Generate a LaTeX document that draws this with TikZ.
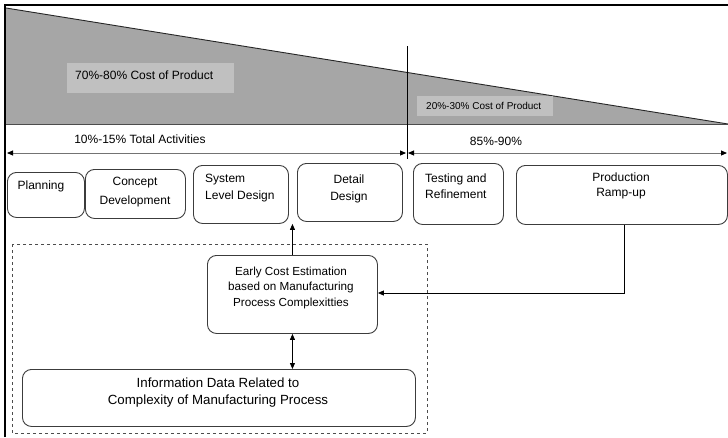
\documentclass[tikz,border=0pt]{standalone}
\usepackage{fontspec}
\setmainfont{Liberation Sans}
\usetikzlibrary{arrows.meta}
\definecolor{wedge}{HTML}{A6A6A6}
\definecolor{tag}{HTML}{C0C0C0}
\definecolor{edge}{HTML}{3C3C3C}
\begin{document}
\begin{tikzpicture}[x=1pt,y=-1pt,
  stage/.style={draw=edge, line width=0.9pt, rounded corners=9pt, anchor=north west, inner sep=0pt},
  lbl/.style={inner sep=0pt, align=center, font=\fontsize{12}{16}\selectfont},
  link/.style={draw=black, line width=0.8pt},
  tip/.style={-{Triangle[length=6pt,width=5pt]}},
  both/.style={{Triangle[length=6pt,width=5pt]}-{Triangle[length=6pt,width=5pt]}},
  span/.style={draw=black!55, line width=0.9pt,
    {Triangle[length=6pt,width=5pt,color=black]}-{Triangle[length=6pt,width=5pt,color=black]}}
]
\useasboundingbox[fill=white] (0,0) rectangle (728,437);

% cost wedge over the project time line
\fill[wedge] (6,8) -- (728,124) -- (6,124) -- cycle;
\draw[line width=0.9pt, black!85] (6,8) -- (728,124);
\draw[line width=0.7pt, black!70] (6,124) -- (728,124);

% cost tags
\node[fill=tag, minimum width=167pt, minimum height=30pt, anchor=north west, inner sep=0pt] (hiTag) at (67,63) {};
\node[lbl, anchor=west] (hiTxt) at (75,75) {70\%-80\% Cost of Product};
\node[fill=tag, minimum width=136pt, minimum height=20pt, anchor=north west, inner sep=0pt] (loTag) at (417,96) {};
\node[lbl, anchor=west, font=\fontsize{10}{12}\selectfont] (loTxt) at (426,106) {20\%-30\% Cost of Product};

% divider and activity spans
\coordinate (divTop) at (407,46);
\coordinate (divBot) at (407,159);
\draw[line width=0.8pt] (divTop) -- (divBot);
\coordinate (spanL) at (7,153);
\coordinate (spanM) at (407,153);
\coordinate (spanR) at (727,153);
\draw[span] (spanL) -- ([xshift=-1pt]spanM);
\draw[span] ([xshift=1pt]spanM) -- (spanR);
\node[lbl] (actL) at (140,139) {10\%-15\% Total Activities};
\node[lbl] (actR) at (496,141) {85\%-90\%};

% frame
\draw[line width=2.2pt] (5,437) -- (5,5) -- (728,5);

% development stages
\node[stage, minimum width=77pt, minimum height=45pt] (plan) at (7,172) {};
\node[lbl] (planTxt) at (41,186) {Planning};
\node[stage, minimum width=100pt, minimum height=49pt] (concept) at (85,169) {};
\node[lbl, font=\fontsize{12}{19}\selectfont] (conceptTxt) at (135,192.5) {Concept\\Development};
\node[stage, minimum width=95pt, minimum height=58pt] (sld) at (193,165) {};
\node[lbl, align=left, anchor=west, font=\fontsize{12}{17}\selectfont] (sldTxt) at (205,188.5) {System\\Level Design};
\node[stage, minimum width=105pt, minimum height=58pt] (detail) at (297,163) {};
\node[lbl, font=\fontsize{12}{17}\selectfont] (detailTxt) at (349,188.5) {Detail\\Design};
\node[stage, minimum width=90pt, minimum height=61pt] (test) at (413,163) {};
\node[lbl, align=left, anchor=west, font=\fontsize{12}{16}\selectfont] (testTxt) at (425,186) {Testing and\\Refinement};
\node[stage, minimum width=211pt, minimum height=59pt] (prod) at (516,165) {};
\node[lbl, font=\fontsize{12}{14.5}\selectfont] (prodTxt) at (621,186) {Production\\Ramp-up};

% estimation loop
\draw[dashed, draw=black!70, line width=0.8pt] (12,244) rectangle (427,433);
\node[stage, minimum width=170pt, minimum height=78pt] (ece) at (207,255) {};
\node[lbl, font=\fontsize{11.7}{15.5}\selectfont] (eceTxt) at (291,287.5) {Early Cost Estimation\\based on Manufacturing\\Process Complexitties};
\node[stage, minimum width=393pt, minimum height=57pt] (info) at (22,369) {};
\node[lbl, font=\fontsize{13.3}{17}\selectfont] (infoTxt) at (218,392.5) {Information Data Related to\\Complexity of Manufacturing Process};

\coordinate (fb) at (624,293);
\draw[link, tip] (ece.north) -- (ece.north |- sld.south);
\draw[link, both] (ece.south) -- (ece.south |- info.north);
\draw[link, tip] (prod.south -| fb) -- (fb) -- (fb -| ece.east);
\end{tikzpicture}
\end{document}
